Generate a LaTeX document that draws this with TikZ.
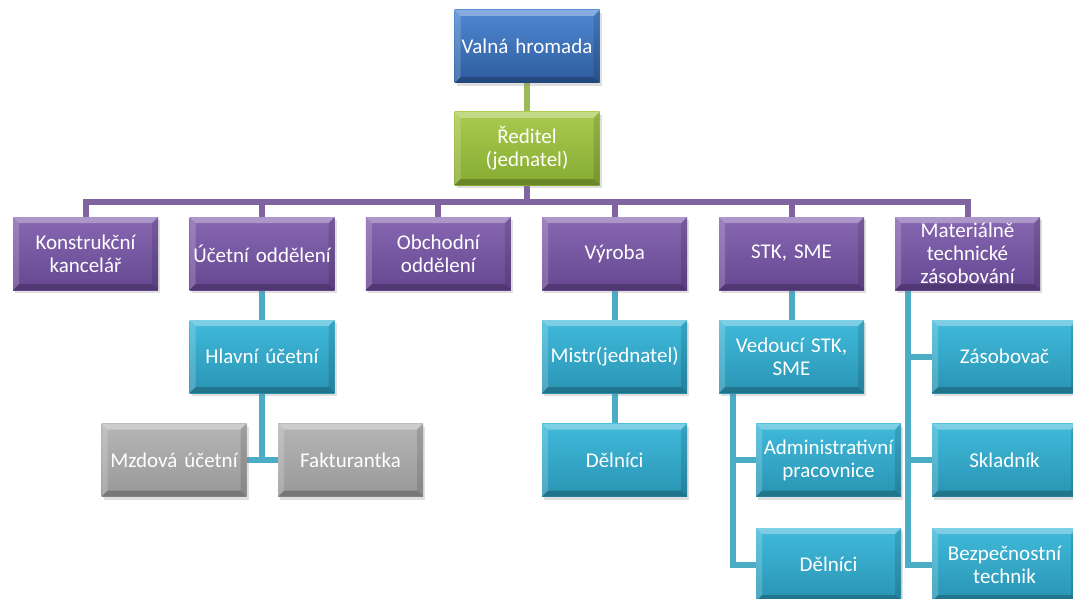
\documentclass[tikz,border=0pt]{standalone}
\usepackage{fontspec}
\setmainfont{Carlito}
\usetikzlibrary{shadows,backgrounds}
\definecolor{blueT}{HTML}{4F88D2}
\definecolor{blueB}{HTML}{2D5C9E}
\definecolor{greenT}{HTML}{A9CA4E}
\definecolor{greenB}{HTML}{87AB33}
\definecolor{purpT}{HTML}{8767B1}
\definecolor{purpB}{HTML}{654791}
\definecolor{tealT}{HTML}{41BADB}
\definecolor{tealB}{HTML}{2994B3}
\definecolor{grayT}{HTML}{B5B5B5}
\definecolor{grayB}{HTML}{999999}
\definecolor{lnGreen}{HTML}{9BBB59}
\definecolor{lnPurp}{HTML}{8064A2}
\definecolor{lnTeal}{HTML}{4BACC6}
\tikzset{
  x=1pt, y=-1pt,
  box/.style={minimum width=145pt, minimum height=73pt, text width=141pt,
    align=center, inner sep=2pt, text=white,
    font=\fontsize{21}{23}\selectfont,
    drop shadow={opacity=0.25, shadow xshift=2pt, shadow yshift=-3pt},
    path picture={
      \fill[white,opacity=.32] (path picture bounding box.north west) -- (path picture bounding box.north east)
        -- ([shift={(-6pt,-6pt)}]path picture bounding box.north east) -- ([shift={(6pt,-6pt)}]path picture bounding box.north west) -- cycle;
      \fill[white,opacity=.18] (path picture bounding box.north west) -- (path picture bounding box.south west)
        -- ([shift={(6pt,6pt)}]path picture bounding box.south west) -- ([shift={(6pt,-6pt)}]path picture bounding box.north west) -- cycle;
      \fill[black,opacity=.22] (path picture bounding box.south west) -- (path picture bounding box.south east)
        -- ([shift={(-6pt,6pt)}]path picture bounding box.south east) -- ([shift={(6pt,6pt)}]path picture bounding box.south west) -- cycle;
      \fill[black,opacity=.12] (path picture bounding box.north east) -- (path picture bounding box.south east)
        -- ([shift={(-6pt,6pt)}]path picture bounding box.south east) -- ([shift={(-6pt,-6pt)}]path picture bounding box.north east) -- cycle;
    }},
  bluebox/.style={box, top color=blueT, bottom color=blueB},
  greenbox/.style={box, top color=greenT, bottom color=greenB},
  purpbox/.style={box, top color=purpT, bottom color=purpB},
  tealbox/.style={box, top color=tealT, bottom color=tealB},
  graybox/.style={box, top color=grayT, bottom color=grayB},
  conn/.style={line width=6pt, line join=miter},
  cgreen/.style={conn, draw=lnGreen},
  cpurp/.style={conn, draw=lnPurp},
  cteal/.style={conn, draw=lnTeal},
}
\begin{document}
\begin{tikzpicture}
\path[use as bounding box, clip] (0,0) rectangle (1073,599);
% level 0,1
\node[bluebox] (valna) at (527,46.5) {Valná hromada};
\node[greenbox] (reditel) at (527,148.5) {Ředitel\\(jednatel)};
% level 2
\node[purpbox] (konstr) at (85.5,253.5) {Konstrukční\\kancelář};
\node[purpbox] (ucetni) at (262,253.5) {Účetní oddělení};
\node[purpbox] (obchod) at (438.3,253.5) {Obchodní\\oddělení};
\node[purpbox] (vyroba) at (614.7,253.5) {Výroba};
\node[purpbox] (stk) at (791.5,253.5) {STK, SME};
\node[purpbox] (mat) at (967.5,253.5) {Materiálně\\technické\\zásobování};
% accounting
\node[tealbox] (hlavni) at (262,356.5) {Hlavní účetní};
\node[graybox] (mzdova) at (174,460) {Mzdová účetní};
\node[graybox] (faktur) at (350.5,460) {Fakturantka};
% production
\node[tealbox] (mistr) at (614.7,356.5) {Mistr(jednatel)};
\node[tealbox] (delnici) at (614.7,460) {Dělníci};
% STK
\node[tealbox] (vedouci) at (791.5,356.5) {Vedoucí STK,\\SME};
\node[tealbox] (admin) at (828.5,460) {Administrativní\\pracovnice};
\node[tealbox] (delnicib) at (828.5,564.5) {Dělníci};
% material
\node[tealbox] (zasob) at (1004.5,356.5) {Zásobovač};
\node[tealbox] (sklad) at (1004.5,460) {Skladník};
\node[tealbox] (bezp) at (1004.5,564.5) {Bezpečnostní\\technik};
\coordinate (bus) at (527,202);
\coordinate (vtap) at (733,393);
\coordinate (mtap) at (908,290);
\begin{scope}[on background layer]
\fill[white] (0,0) rectangle (1073,599);
\draw[cgreen] (valna.south) -- (reditel.north);
\draw[cpurp] (reditel.south) -- (bus);
\draw[cpurp] (konstr.north) -- (konstr.north |- bus) -- (mat.north |- bus) -- (mat.north);
\foreach \n in {ucetni,obchod,vyroba,stk} \draw[cpurp] (\n.north) -- (\n.north |- bus);
\draw[cteal] (ucetni.south) -- (hlavni.north);
\draw[cteal] (hlavni.south) -- (hlavni.south |- mzdova.east);
\draw[cteal] (mzdova.east) -- (faktur.west);
\draw[cteal] (vyroba.south) -- (mistr.north);
\draw[cteal] (mistr.south) -- (delnici.north);
\draw[cteal] (stk.south) -- (vedouci.north);
\draw[cteal] (vtap) -- (vtap |- delnicib.west) -- (delnicib.west);
\draw[cteal] (vtap |- admin.west) -- (admin.west);
\draw[cteal] (mtap) -- (mtap |- bezp.west) -- (bezp.west);
\draw[cteal] (mtap |- zasob.west) -- (zasob.west);
\draw[cteal] (mtap |- sklad.west) -- (sklad.west);
\end{scope}
\end{tikzpicture}
\end{document}
